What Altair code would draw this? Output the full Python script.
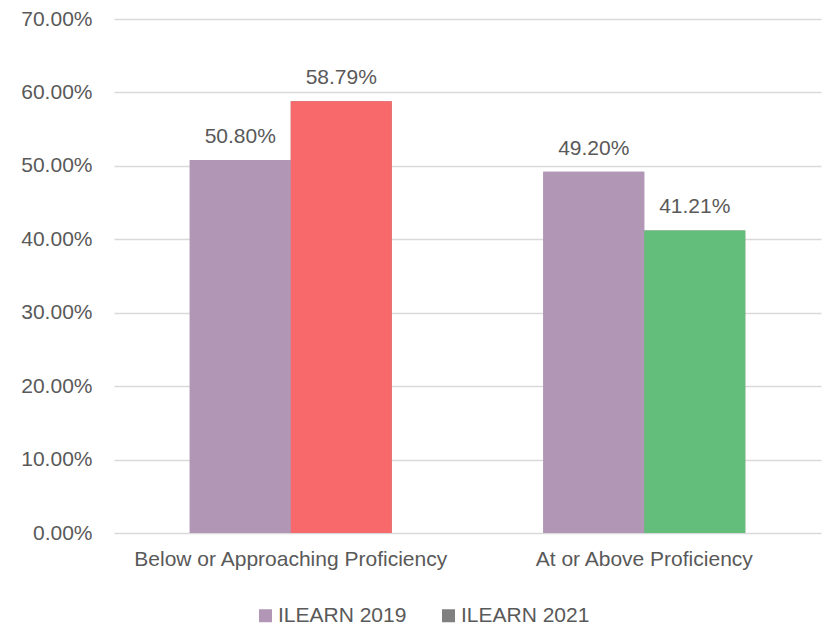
import altair as alt
import pandas as pd

categories = ["Below or Approaching Proficiency", "Below or Approaching Proficiency",
              "At or Above Proficiency", "At or Above Proficiency"]
series = ["ILEARN 2019", "ILEARN 2021", "ILEARN 2019", "ILEARN 2021"]
values = [50.80, 58.79, 49.20, 41.21]
bar_colors = ["#b196b5", "#f8696b", "#b196b5", "#63be7b"]

cat_order = ["Below or Approaching Proficiency", "At or Above Proficiency"]
series_order = ["ILEARN 2019", "ILEARN 2021"]
legend_colors = ["#b196b5", "#808080"]

df = pd.DataFrame({"category": categories, "series": series,
                   "value": values, "barcolor": bar_colors})
df["label"] = df["value"].map(lambda v: f"{v:.2f}%")

FONT = "Liberation Sans"
FS = 21
TXT = "#595959"

x = alt.X("category:N", sort=cat_order, title=None,
          scale=alt.Scale(paddingInner=0, paddingOuter=0),
          axis=alt.Axis(labelAngle=0, labelFontSize=FS, labelColor=TXT, labelFont=FONT,
                        ticks=False, domain=False, grid=False, labelPadding=15,
                        labelLimit=0))
y = alt.Y("value:Q", title=None,
          scale=alt.Scale(domain=[0, 70]),
          axis=alt.Axis(values=[0, 10, 20, 30, 40, 50, 60, 70],
                        labelExpr="format(datum.value, '.2f') + '%'",
                        labelFontSize=FS, labelColor=TXT, labelFont=FONT,
                        ticks=False, domain=False, labelPadding=22,
                        gridColor="#d9d9d9", gridWidth=1.5))
xo = alt.XOffset("series:N", sort=series_order,
                 scale=alt.Scale(paddingInner=0, paddingOuter=0.75))

base = alt.Chart(df)

bars_legend = base.mark_bar().encode(
    x=x, y=y, xOffset=xo,
    color=alt.Color("series:N", sort=series_order,
                    scale=alt.Scale(domain=series_order, range=legend_colors),
                    legend=alt.Legend(title=None, orient="none", direction="horizontal",
                                      legendX=141, legendY=586, padding=0,
                                      labelFontSize=FS, labelColor=TXT, labelFont=FONT,
                                      symbolType="square", symbolSize=169,
                                      symbolStrokeWidth=0, columnPadding=31,
                                      labelOffset=2, labelLimit=0)),
)

bars = base.mark_bar().encode(
    x=x, y=y, xOffset=xo,
    color=alt.Color("barcolor:N", scale=None),
)

labels = base.mark_text(baseline="alphabetic", dy=-17, fontSize=FS, color=TXT, font=FONT).encode(
    x=x, y=y, xOffset=xo, text="label:N",
)

chart = alt.layer(bars_legend, bars, labels).properties(
    width=707, height=514,
    padding={"left": 106, "top": 11, "right": 1, "bottom": 95},
    autosize=alt.AutoSizeParams(type="none"),
    background="white",
).configure_view(stroke=None, strokeWidth=0)

chart.save("out.html", embed_options={"renderer": "svg", "actions": False})
